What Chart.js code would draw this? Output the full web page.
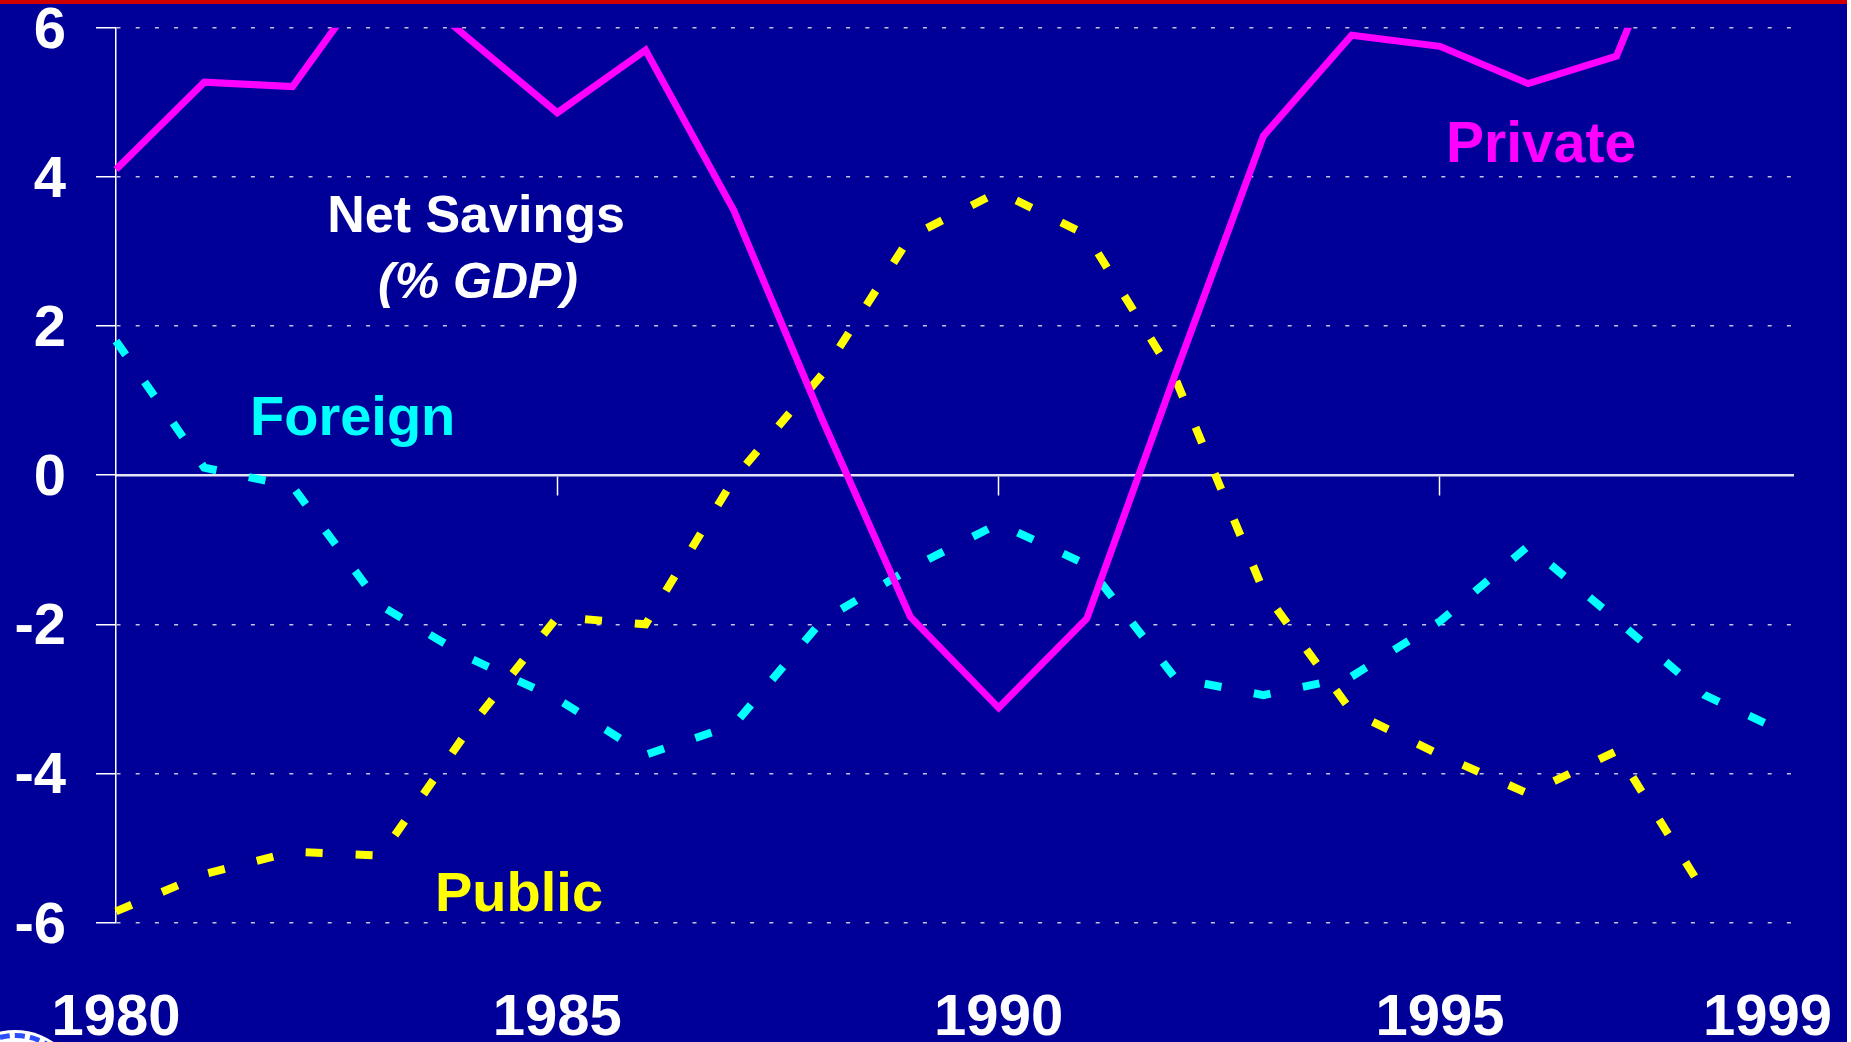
<!DOCTYPE html>
<html>
<head>
<meta charset="utf-8">
<script src="https://cdn.jsdelivr.net/npm/chart.js@4.4.1/dist/chart.umd.min.js"></script>
<style>
  html, body { margin:0; padding:0; background:#000099; overflow:hidden; }
  #wrap { position:relative; width:1851px; height:1042px; background:#000099; }
  #savings { position:absolute; left:0; top:0; }
  #topbar { position:absolute; left:0; top:0; width:1847px; height:4px; background:#d00000; }
  #edge { position:absolute; right:0; top:0; width:4px; height:1042px; background:#fff; }
  #seal { position:absolute; left:-50px; top:1033px; width:120px; height:120px; border-radius:50%;
          background:#fff; border:5px dashed #2a4dff; box-shadow:0 0 0 3px #fff; }
</style>
</head>
<body>
<div id="wrap">
  <canvas id="savings" width="1851" height="1042"></canvas>
  <div id="topbar"></div>
  <div id="edge"></div>
  <div id="seal"></div>
</div>
<script>
/* Net savings (% GDP), 1980-1999 */
const years = ["1980","1981","1982","1983","1984","1985","1986","1987","1988","1989",
               "1990","1991","1992","1993","1994","1995","1996","1997","1998","1999"];
const privateSav = [4.1, 5.27, 5.21, 6.85, 5.85, 4.86, 5.7, 3.55, 0.75, -1.9,
                    -3.12, -1.92, 1.35, 4.55, 5.9, 5.75, 5.25, 5.62, 8.5, null];
const publicSav  = [-5.85, -5.35, -5.05, -5.1, -3.4, -1.9, -2.0, -0.05, 1.35, 3.2,
                    3.8, 3.22, 1.3, -1.55, -3.17, -3.75, -4.27, -3.7, -5.6, null];
const foreignSav = [1.8, 0.1, -0.15, -1.75, -2.45, -3.0, -3.75, -3.35, -1.95, -1.25,
                    -0.65, -1.2, -2.72, -2.95, -2.7, -1.96, -0.95, -1.94, -2.95, -3.5];
const xTickYears = ["1980","1985","1990","1995","1999"];
const yTicks = [-6, -4, -2, 0, 2, 4, 6];

const FONT = "'Liberation Sans', Arial, sans-serif";
const C = {
  bg: "#000099",
  white: "#ffffff",
  grid: "#c4c4dc",
  axis: "#e4e4f4",
  priv: "#ff00ff",
  pub: "#ffff00",
  forn: "#00ffff"
};

/* free text on the slide */
const notes = [
  { text:"Net Savings", x:476,  y:232, align:"center", font:"bold 52px",        color:C.white },
  { text:"(% GDP)",     x:478,  y:298, align:"center", font:"italic bold 50px", color:C.white },
  { text:"Foreign",     x:250,  y:435, align:"left",   font:"bold 56px",        color:C.forn },
  { text:"Private",     x:1446, y:162, align:"left",   font:"bold 57px",        color:C.priv },
  { text:"Public",      x:435,  y:911, align:"left",   font:"bold 56px",        color:C.pub }
];

const textLayer = {
  id:'textLayer',
  afterDraw(chart){
    const ctx = chart.ctx;
    const xs = chart.scales.x;
    ctx.save();
    ctx.textBaseline = 'alphabetic';
    ctx.fillStyle = C.white;
    ctx.font = "bold 58px " + FONT;
    ctx.textAlign = 'center';
    xTickYears.forEach(lbl => {
      const w = ctx.measureText(lbl).width;
      let px = xs.getPixelForValue(years.indexOf(lbl));
      px = Math.min(px, chart.width - 19 - w / 2);
      ctx.fillText(lbl, px, 1035);
    });
    notes.forEach(n => {
      ctx.font = n.font + " " + FONT;
      ctx.fillStyle = n.color;
      ctx.textAlign = n.align;
      ctx.fillText(n.text, n.x, n.y);
    });
    ctx.restore();
  }
};

const markedYears = ["1985","1990","1995"];
const lineClip = { left:6, top:0, right:6, bottom:6 };

new Chart(document.getElementById('savings'), {
  type:'line',
  data:{
    labels: years,
    datasets:[
      { label:'Private', data:privateSav, borderColor:C.priv, borderWidth:7,
        borderJoinStyle:'miter', pointRadius:0, tension:0, clip:lineClip },
      { label:'Public', data:publicSav, borderColor:C.pub, borderWidth:8,
        borderDash:[17,33], borderCapStyle:'butt', pointRadius:0, tension:0, clip:lineClip },
      { label:'Foreign', data:foreignSav, borderColor:C.forn, borderWidth:8,
        borderDash:[17,33], borderCapStyle:'butt', pointRadius:0, tension:0, clip:lineClip }
    ]
  },
  options:{
    responsive:false,
    devicePixelRatio:1,
    animation:false,
    events:[],
    layout:{ autoPadding:false, padding:{ top:27.7, right:58, bottom:119.4, left:0 } },
    plugins:{ legend:{ display:false }, tooltip:{ enabled:false } },
    scales:{
      x:{
        type:'category',
        offset:false,
        position:{ y:0 },
        afterFit: s => { s.paddingLeft = 0; s.paddingRight = 0; s.paddingTop = 0; s.paddingBottom = 0; },
        ticks:{ display:false, autoSkip:false },
        grid:{
          drawOnChartArea:false,
          drawTicks:true,
          tickLength:19,
          tickWidth:1.5,
          tickColor: ctx => markedYears.includes(years[ctx.index]) ? C.white : 'rgba(0,0,0,0)'
        },
        border:{ display:true, color:C.axis, width:2.5 }
      },
      y:{
        min:-6, max:6,
        afterBuildTicks: s => { s.ticks = yTicks.map(v => ({ value:v })); },
        afterFit: s => { s.width = 116; s.paddingTop = 0; s.paddingBottom = 0; s.paddingLeft = 0; s.paddingRight = 0; },
        ticks:{
          color:C.white,
          font:{ family:FONT, size:58, weight:'bold' },
          padding:30,
          labelOffset:4
        },
        grid:{
          color: ctx => ctx.tick && ctx.tick.value === 0 ? 'rgba(0,0,0,0)' : C.grid,
          lineWidth:1.5,
          drawTicks:true,
          tickLength:20,
          tickWidth:1.5,
          tickColor:C.white
        },
        border:{ display:true, color:C.white, width:1.5, dash:[4,15.2] }
      }
    }
  },
  plugins:[textLayer]
});
</script>
</body>
</html>
